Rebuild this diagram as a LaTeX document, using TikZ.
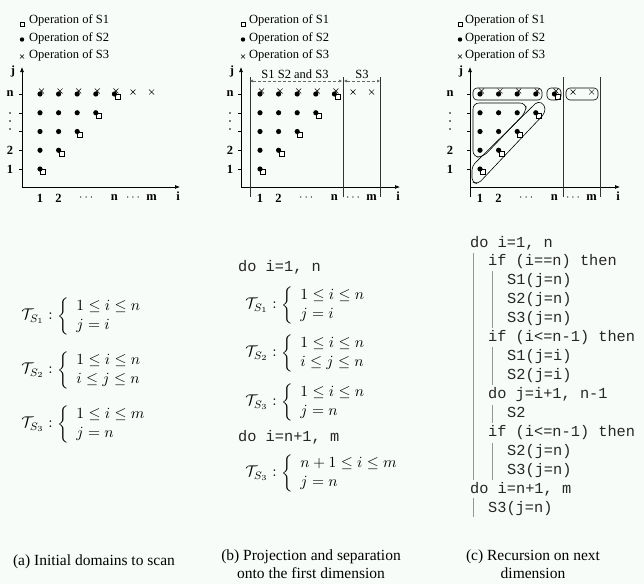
\documentclass[tikz,border=0pt]{standalone}
\usepackage[no-math]{fontspec}
\setmainfont{Liberation Serif}
\setmonofont{Liberation Mono}
\usetikzlibrary{arrows.meta}
\definecolor{bg}{RGB}{248,252,248}
\definecolor{barc}{RGB}{150,150,150}
\tikzset{
  legendtxt/.style={anchor=west, font=\fontsize{12.5}{14}\selectfont, inner sep=0pt},
  axlab/.style={font=\fontsize{12.5}{14}\selectfont\bfseries, inner sep=0pt},
  axisarrow/.style={line width=0.7pt, -{Latex[length=5pt,width=4pt]}},
  sepline/.style={line width=0.5pt, draw=black!80},
  mathnode/.style={anchor=west, scale=1.55, inner sep=0pt},
  codenode/.style={anchor=west, font=\fontsize{15.3}{18}\selectfont\ttfamily, inner sep=0pt, text height=9pt, text depth=1pt, text=black!85},
  codebar/.style={draw=barc, line width=0.6pt},
  capnode/.style={font=\fontsize{15.5}{18}\selectfont, align=center, inner sep=0pt},
  groupbox/.style={draw, line width=0.6pt, rounded corners=4pt},
  sizearrow/.style={densely dashed, draw=black!60, line width=0.5pt, {Latex[length=3pt,width=3pt]}-{Latex[length=3pt,width=3pt]}},
}
\newcommand\PSquare[2]{\draw[fill=white, line width=0.5pt] (#1+0.5,#2+0.5) rectangle (#1+5.5,#2+5.5);}
\newcommand\PDot[2]{\fill (#1,#2) circle[radius=2.6pt];}
\newcommand\PCross[2]{\draw[line width=0.5pt] (#1-2.5,#2-2.5) -- (#1+2.5,#2+2.5) (#1-2.5,#2+2.5) -- (#1+2.5,#2-2.5);}
\newcommand\Domain[1]{%
  \foreach \ci in {1,...,5}{%
    \pgfmathsetmacro\cx{#1+18.6*(\ci-1)}%
    \pgfmathsetmacro\dy{169-18.75*(\ci-1)}%
    \PSquare{\cx}{\dy}%
    \foreach \rj in {\ci,...,5}{%
      \pgfmathsetmacro\cy{169-18.75*(\rj-1)}%
      \PDot{\cx}{\cy}%
    }%
    \PCross{\cx+1.5}{91}%
  }%
  \PCross{#1+18.6*5}{92}%
  \PCross{#1+18.6*6}{92}%
}
% #1 axis x, #2 first column x, #3 row label x, #4 x-axis end
\newcommand\Axes[4]{%
  \foreach \ry in {94,112.75,131.5,150.25,169}{\draw[line width=0.5pt] (#1-3,\ry) -- (#1,\ry);}
  \node[axlab] at (#3,94) {n};
  \node[axlab] at (#3,150) {2};
  \node[axlab] at (#3,169) {1};
  \fill (#3,113) circle[radius=0.9pt] (#3,121) circle[radius=0.9pt] (#3,129) circle[radius=0.9pt];
  \node[axlab] at (#2,198) {1};
  \node[axlab] at (#2+18.6,198) {2};
  \node[axlab] at (#2+46.2,198) {$\cdots$};
  \node[axlab] at (#2+74.4,198) {n};
  \node[axlab] at (#2+93,198) {$\cdots$};
  \node[axlab] at (#2+111.6,198) {m};
  \node[axlab] at (#4-2,196) {i};
  \node[axlab] at (#1-9,71) {j};
}
\newcommand\Legend[2]{%
  \draw[line width=0.5pt, fill=white] (#1-2,22) rectangle (#1+2,26);
  \node[legendtxt] at (#2,20.5) {Operation of S1};
  \fill (#1,39.5) circle[radius=2.2pt];
  \node[legendtxt] at (#2,38) {Operation of S2};
  \draw[line width=0.5pt] (#1-2,54.5) -- (#1+2,58.5) (#1-2,58.5) -- (#1+2,54.5);
  \node[legendtxt] at (#2,55.5) {Operation of S3};
}
\begin{document}
\begin{tikzpicture}[x=1pt,y=-1pt]
\useasboundingbox (0,0) rectangle (644,584);
\fill[bg] (0,0) rectangle (644,584);

% ---------------- (a)
\Legend{22}{29}
\draw[axisarrow] (22,187) -- (22,67);
\draw[axisarrow] (22,187) -- (180,187);
\Axes{22}{40}{10}{180}
\Domain{40}

\node[mathnode] (ta1) at (21,316) {$\mathcal{T}_{S_1} : \left\{\begin{array}{l}1\le i\le n\\ j=i\end{array}\right.$};
\node[mathnode] (ta2) at (21,370) {$\mathcal{T}_{S_2} : \left\{\begin{array}{l}1\le i\le n\\ i\le j\le n\end{array}\right.$};
\node[mathnode] (ta3) at (21,424) {$\mathcal{T}_{S_3} : \left\{\begin{array}{l}1\le i\le m\\ j=n\end{array}\right.$};

\node[capnode] (capa) at (94,562) {(a) Initial domains to scan};

% ---------------- (b)
\Legend{243}{249}
\draw[axisarrow] (241,187) -- (241,67);
\draw[axisarrow] (241,187) -- (400,187);
\draw[sepline] (250,77) -- (250,197);
\draw[sepline] (343,77) -- (343,197);
\draw[sepline] (380,77) -- (380,197);
\coordinate (ba1) at (250,81); \coordinate (ba2) at (342,81);
\coordinate (ba3) at (344,81); \coordinate (ba4) at (380,81);
\draw[sizearrow] (ba1) -- (ba2);
\draw[sizearrow] (ba3) -- (ba4);
\node[legendtxt, anchor=center] (lb1) at (295,74.5) {S1 S2 and S3};
\node[legendtxt, anchor=center] (lb2) at (362,74.5) {S3};
\Axes{241}{260}{230}{400}
\Domain{260}

\node[codenode] (bc1) at (238,267) {do i=1, n};
\node[mathnode] (tb1) at (245,305) {$\mathcal{T}_{S_1} : \left\{\begin{array}{l}1\le i\le n\\ j=i\end{array}\right.$};
\node[mathnode] (tb2) at (245,353) {$\mathcal{T}_{S_2} : \left\{\begin{array}{l}1\le i\le n\\ i\le j\le n\end{array}\right.$};
\node[mathnode] (tb3) at (245,402) {$\mathcal{T}_{S_3} : \left\{\begin{array}{l}1\le i\le n\\ j=n\end{array}\right.$};
\node[codenode] (bc2) at (238,437) {do i=n+1, m};
\node[mathnode] (tb4) at (245,473) {$\mathcal{T}_{S_3} : \left\{\begin{array}{l}n+1\le i\le m\\ j=n\end{array}\right.$};

\node[capnode] (capb) at (311,564) {(b) Projection and separation\\onto the first dimension};

% ---------------- (c)
\Legend{460}{465}
\draw[axisarrow] (470,197) -- (470,67);
\draw[axisarrow] (470,187) -- (620,187);
\draw[sepline] (563,77) -- (563,197);
\draw[sepline] (600,77) -- (600,197);
\Axes{470}{480}{450}{620}
\Domain{480}
\draw[groupbox] (473,88) rectangle (542,100);
\draw[groupbox] (547,88) rectangle (561,100);
\draw[groupbox] (566,88) rectangle (598,100);
\draw[groupbox, rounded corners=6pt] (473,103) -- (526,103) -- (526,112) -- (483,157) -- (473,157) -- cycle;
\draw[groupbox] (472,166) -- (538,101) -- (545,105) -- (545,113) -- (478,184) -- (472,182) -- cycle;

\foreach \k/\xx/\txt in {0/470/{do i=1, n},1/488/{if (i==n) then},2/507/{S1(j=n)},3/507/{S2(j=n)},4/507/{S3(j=n)},5/488/{if (i<=n-1) then},6/507/{S1(j=i)},7/507/{S2(j=i)},8/488/{do j=i+1, n-1},9/507/{S2},10/488/{if (i<=n-1) then},11/507/{S2(j=n)},12/507/{S3(j=n)},13/470/{do i=n+1, m},14/488/{S3(j=n)}}{
  \node[codenode] (cc\k) at (\xx,243+18.93*\k) {\txt};
}
\draw[codebar] (473,253) -- (473,480);
\draw[codebar] (492,271) -- (492,328);
\draw[codebar] (492,347) -- (492,385);
\draw[codebar] (492,405) -- (492,423);
\draw[codebar] (492,443) -- (492,480);
\draw[codebar] (473,498) -- (473,517);

\node[capnode] (capc) at (533,564) {(c) Recursion on next\\dimension};
\end{tikzpicture}
\end{document}
